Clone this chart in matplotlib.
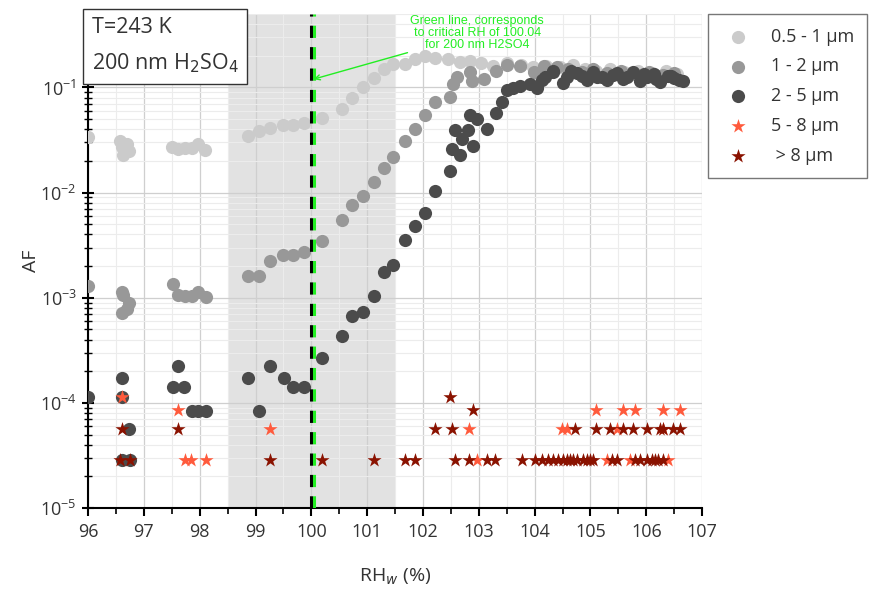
import matplotlib.pyplot as plt
from matplotlib.ticker import LogLocator, NullFormatter, MultipleLocator

plt.rcParams['font.family'] = ['Open Sans', 'DejaVu Sans']

# 0.5 - 1 um
x_s1 = [96.0, 96.58, 96.61, 96.63, 96.70, 96.73, 96.65,
        97.51, 97.61, 97.74, 97.86, 97.97, 98.10,
        98.87, 99.06, 99.26, 99.49, 99.67, 99.87, 100.19, 100.55, 100.73, 100.93,
        101.13, 101.30, 101.47, 101.68, 101.86, 102.04, 102.22, 102.45, 102.67,
        102.85, 103.03, 103.25, 103.51, 103.75, 103.97, 104.20, 104.46, 104.69,
        104.90, 105.10, 105.35, 105.60, 105.85, 106.10, 106.35, 106.55]
y_s1 = [0.034, 0.031, 0.027, 0.023, 0.029, 0.025, 0.026,
        0.0274, 0.0262, 0.0265, 0.0268, 0.029, 0.0256,
        0.0349, 0.0382, 0.041, 0.0436, 0.0436, 0.046, 0.051, 0.063, 0.080, 0.102,
        0.124, 0.150, 0.166, 0.166, 0.188, 0.200, 0.190, 0.185, 0.175,
        0.178, 0.171, 0.160, 0.171, 0.165, 0.157, 0.160, 0.157, 0.165,
        0.150, 0.145, 0.150, 0.140, 0.145, 0.138, 0.142, 0.135]

# 1 - 2 um
x_s2 = [96.0, 96.61, 96.63, 96.73, 96.70, 96.61,
        97.52, 97.61, 97.74, 97.86, 97.97, 98.11,
        98.87, 99.06, 99.26, 99.49, 99.67, 99.87, 100.19, 100.55, 100.73, 100.93,
        101.13, 101.30, 101.47, 101.68, 101.86, 102.04, 102.22, 102.49, 102.54,
        102.61, 102.85, 102.88, 103.10, 103.30, 103.51, 103.74, 103.99, 104.17,
        104.40, 104.60, 104.85, 105.05, 105.30, 105.55, 105.80, 106.05, 106.30, 106.50]
y_s2 = [0.0013, 0.00114, 0.00107, 0.00089, 0.00079, 0.00072,
        0.00136, 0.00107, 0.00104, 0.00104, 0.00114, 0.00102,
        0.00162, 0.0016, 0.00225, 0.00257, 0.00257, 0.0027, 0.0035, 0.0055, 0.0077, 0.0092,
        0.0126, 0.017, 0.022, 0.031, 0.040, 0.055, 0.072, 0.082, 0.109,
        0.127, 0.140, 0.115, 0.120, 0.145, 0.165, 0.160, 0.140, 0.160,
        0.157, 0.150, 0.140, 0.150, 0.138, 0.145, 0.135, 0.140, 0.132, 0.138]

# 2 - 5 um
x_s3 = [96.0, 96.61, 96.61, 96.73, 96.60, 96.75,
        97.52, 97.61, 97.72, 97.86, 97.97, 98.11,
        98.87, 99.06, 99.26, 99.51, 99.67, 99.87, 100.19, 100.55, 100.73, 100.93,
        101.13, 101.30, 101.47, 101.68, 101.86, 102.04, 102.22, 102.49, 102.52,
        102.58, 102.67, 102.70, 102.81, 102.85, 102.90, 102.97, 103.15, 103.31,
        103.42, 103.51, 103.62, 103.74, 103.92, 104.05, 104.14, 104.19, 104.32,
        104.33, 104.51, 104.58, 104.76, 104.94, 105.12, 105.30, 105.48, 105.66,
        105.77, 105.89, 106.02, 106.13, 106.25, 106.38, 106.50, 106.65,
        104.65, 104.85, 105.05, 105.20, 105.40, 105.58, 105.95, 106.18, 106.45, 106.58]
y_s3 = [0.000114, 0.000173, 0.000114, 5.65e-5, 2.86e-5, 2.86e-5,
        0.000142, 0.000225, 0.000142, 8.4e-5, 8.4e-5, 8.4e-5,
        0.000173, 8.4e-5, 0.000225, 0.000173, 0.000142, 0.000142, 0.000268, 0.000434,
        0.000675, 0.000736,
        0.00104, 0.00177, 0.00206, 0.00356, 0.0048, 0.00646, 0.0104, 0.0162, 0.026,
        0.0398, 0.0227, 0.0325, 0.0398, 0.055, 0.0275, 0.0497, 0.0406, 0.0575,
        0.0735, 0.095, 0.098, 0.103, 0.107, 0.0985, 0.119, 0.126, 0.143,
        0.140, 0.110, 0.127, 0.138, 0.119, 0.127, 0.119, 0.138, 0.127,
        0.140, 0.115, 0.127, 0.135, 0.112, 0.130, 0.122, 0.115,
        0.145, 0.130, 0.140, 0.125, 0.132, 0.120, 0.135, 0.120, 0.128, 0.118]

# 5 - 8 um
x_s4 = [96.61, 97.61, 97.74, 97.85, 98.11, 99.26, 102.83, 102.97,
        104.49, 104.58, 105.30, 105.71, 106.38, 105.48, 106.30,
        105.09, 105.59, 105.80, 106.30, 106.61]
y_s4 = [0.000114, 8.6e-5, 2.86e-5, 2.86e-5, 2.86e-5, 5.7e-5, 5.7e-5, 2.86e-5,
        5.7e-5, 5.7e-5, 2.86e-5, 2.86e-5, 2.86e-5, 5.7e-5, 5.7e-5,
        8.6e-5, 8.6e-5, 8.6e-5, 8.6e-5, 8.6e-5]

# > 8 um
x_s5 = [96.61, 96.57, 96.75, 97.61, 99.26, 100.19, 101.13, 101.68, 101.86,
        102.49, 102.90, 102.22, 102.52,
        102.58, 102.83, 103.15, 103.29, 103.78, 104.01, 104.14, 104.23, 104.32,
        104.41, 104.51, 104.58, 104.64, 104.69, 104.76, 104.87, 104.94, 105.00,
        105.05, 105.39, 105.48, 105.80, 105.89, 106.02, 106.11, 106.16, 106.21,
        106.29,
        104.73, 105.09, 105.35, 105.59, 105.77, 106.02, 106.25, 106.30, 106.47, 106.61]
y_s5 = [5.7e-5, 2.86e-5, 2.86e-5, 5.7e-5, 2.86e-5, 2.86e-5, 2.86e-5, 2.86e-5, 2.86e-5,
        0.000114, 8.6e-5, 5.7e-5, 5.7e-5] + [2.86e-5] * 28 + [5.7e-5] * 10

fig = plt.figure(figsize=(8.69, 5.89), dpi=100)
ax = fig.add_axes([0.1013, 0.1375, 0.7067, 0.8387])

ax.axvspan(98.5, 101.5, color='#e2e2e2', zorder=0.5, lw=0)
ax.grid(which='major', color='#cfcfcf', lw=0.9, zorder=0.8)
ax.grid(which='minor', color='#ececec', lw=0.8, zorder=0.8)
ax.set_axisbelow(True)

ms = 90
ax.scatter(x_s1, y_s1, s=ms, color='#cbcbcb', label='0.5 - 1 µm', zorder=3, lw=0)
ax.scatter(x_s2, y_s2, s=ms, color='#989898', label='1 - 2 µm', zorder=3, lw=0)
ax.scatter(x_s3, y_s3, s=ms, color='#4b4b4b', label='2 - 5 µm', zorder=3, lw=0)
ax.scatter(x_s4, y_s4, s=115, marker='*', color='#ff5a3c', label='5 - 8 µm', zorder=4, lw=0)
ax.scatter(x_s5, y_s5, s=115, marker='*', color='#8a1200', label=' > 8 µm', zorder=4, lw=0)

ax.axvline(100.0, color='black', ls=(0, (4, 3)), lw=2.2, zorder=5)
ax.axvline(100.04, color='#22ee22', ls=(0, (4, 3)), lw=2.2, zorder=6)

ax.set_yscale('log')
ax.set_xlim(96, 107)
ax.set_ylim(1e-5, 0.5)
ax.xaxis.set_major_locator(MultipleLocator(1))
ax.xaxis.set_minor_locator(MultipleLocator(0.5))
ax.yaxis.set_major_locator(LogLocator(base=10, numticks=10))
ax.yaxis.set_minor_locator(LogLocator(base=10, subs=range(2, 10), numticks=10))
ax.yaxis.set_minor_formatter(NullFormatter())

for s in ['top', 'right']:
    ax.spines[s].set_visible(False)
for s in ['left', 'bottom']:
    ax.spines[s].set_linewidth(1.5)
    ax.spines[s].set_color('black')

ax.tick_params(axis='x', which='major', direction='out', length=6, width=1.5,
               labelsize=13, colors='black', labelcolor='#333333', pad=5)
ax.tick_params(axis='x', which='minor', direction='out', length=4, width=1.2)
ax.tick_params(axis='y', which='major', direction='inout', length=9, width=1.5,
               labelsize=13, labelcolor='#333333')
ax.tick_params(axis='y', which='minor', direction='inout', length=6, width=1.0)

ax.set_xlabel('RH$_{w}$ (%)', fontsize=14, color='#333333', labelpad=18)
ax.set_ylabel('AF', fontsize=14, color='#333333', labelpad=0)

ax.text(0.006, 0.994, 'T=243 K\n200 nm H$_2$SO$_4$', transform=ax.transAxes,
        fontsize=15.5, color='#333333', va='top', ha='left', linespacing=1.75,
        bbox=dict(boxstyle='square,pad=0.4', fc='white', ec='#333333', lw=1.0),
        zorder=10)

ax.annotate('Green line, corresponds\nto critical RH of 100.04\nfor 200 nm H2SO4',
            xy=(100.04, 0.12), xytext=(102.97, 0.33),
            fontsize=9, color='#22ee22', ha='center', va='center',
            family=['Liberation Sans', 'DejaVu Sans'], linespacing=0.95,
            arrowprops=dict(arrowstyle='->', color='#22ee22', lw=1.0,
                            shrinkA=0, shrinkB=0),
            zorder=10)

leg = fig.legend(loc='upper left', bbox_to_anchor=(0.815, 0.976), fontsize=13,
                 frameon=True, fancybox=False, edgecolor='#555555',
                 borderpad=0.75, labelspacing=0.65, handletextpad=0.9,
                 borderaxespad=0, handlelength=1.8)
leg.get_frame().set_linewidth(1.0)
for t in leg.get_texts():
    t.set_color('#333333')

fig.savefig('out.png', dpi=100)
